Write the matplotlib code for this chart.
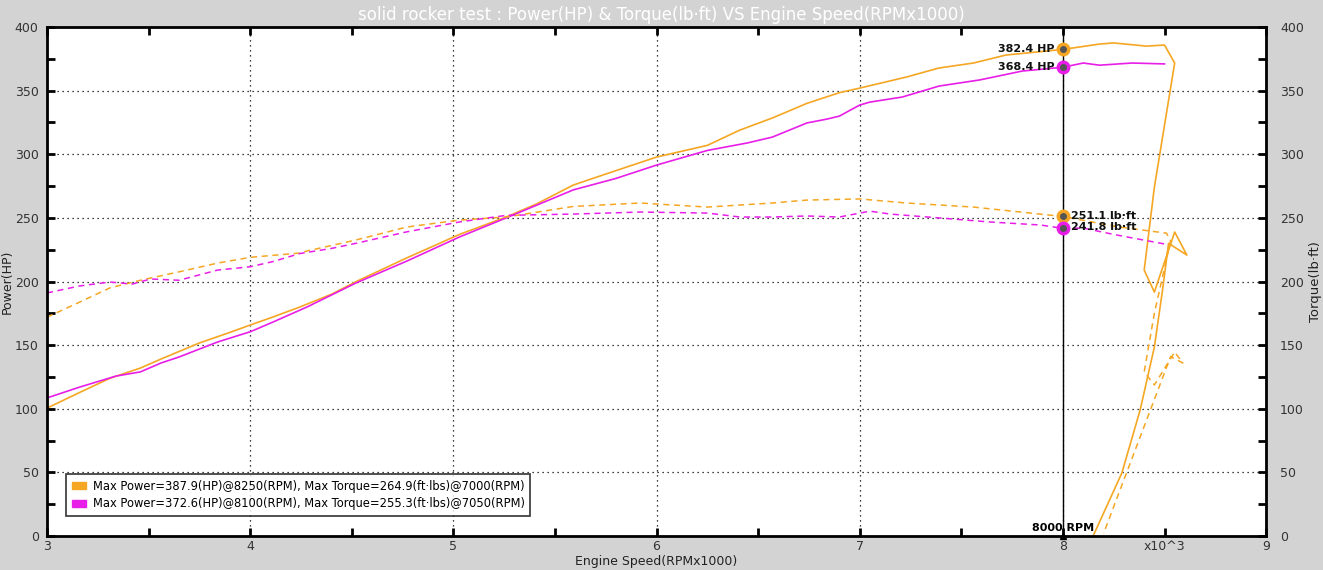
import numpy as np
import matplotlib.pyplot as plt
from matplotlib.patches import Patch

# run 1 (orange) - power and torque vs rpm (x1000)
rpm_a = [3.00, 3.15, 3.31, 3.46, 3.56, 3.75, 3.90, 4.00, 4.11, 4.245, 4.40, 4.53, 4.77,
         5.03, 5.26, 5.41, 5.59, 5.76, 6.00, 6.25, 6.41, 6.57, 6.74, 6.90, 7.00, 7.23,
         7.39, 7.56, 7.72, 8.00, 8.18, 8.25, 8.41, 8.50, 8.55, 8.45, 8.40, 8.45, 8.55,
         8.61, 8.52, 8.49, 8.45, 8.38, 8.29, 8.15]
hp_a = [100.5, 112, 124, 132, 139, 151.7, 160, 165.8, 172, 180, 190, 200.6, 218.5,
        237, 250.7, 261, 275.8, 285, 297.8, 307, 319, 328.5, 340, 348.4, 352, 360.7,
        367.8, 371.7, 378, 382.4, 386.6, 387.5, 385, 385.8, 371.7, 274, 209, 191.7, 238.9,
        220.8, 230, 193, 148.5, 99, 49.5, 0.5]

rpm_ta = [3.00, 3.15, 3.31, 3.46, 3.65, 3.84, 4.00, 4.245, 4.28, 4.52, 4.77, 5.03, 5.26,
          5.59, 5.92, 6.25, 6.57, 6.74, 7.00, 7.23, 7.56, 8.00, 8.27, 8.51, 8.53, 8.45,
          8.40, 8.45, 8.55, 8.59, 8.53, 8.20]
tq_a = [172, 183, 195, 201, 207.6, 214.5, 219, 222.4, 224, 232.6, 242.8, 248.3, 250.7,
        259, 261.7, 258.5, 261.7, 264, 264.9, 261.7, 258.5, 251.1, 243, 238, 232, 175,
        129, 118.7, 144.6, 136, 141, 2]

# run 2 (magenta)
rpm_b = [3.00, 3.16, 3.34, 3.46, 3.56, 3.65, 3.84, 4.00, 4.11, 4.28, 4.52, 4.77, 5.03,
         5.26, 5.41, 5.59, 5.80, 6.00, 6.25, 6.45, 6.57, 6.74, 6.84, 6.90, 7.00, 7.05,
         7.21, 7.39, 7.59, 7.80, 8.00, 8.10, 8.18, 8.34, 8.50]
hp_b = [108.5, 117, 125.7, 129, 135.9, 140.7, 152.5, 160.5, 168, 180, 198.8, 216, 235,
        250, 260, 272, 281, 291.5, 303, 309, 313.5, 324.6, 327.7, 330, 338.7, 341,
        345, 353.6, 358.4, 365.4, 368.4, 371.7, 370, 371.7, 371]

rpm_tb = [3.00, 3.16, 3.31, 3.42, 3.51, 3.65, 3.84, 4.00, 4.11, 4.245, 4.40, 4.52, 4.77,
          5.03, 5.26, 5.59, 5.92, 6.25, 6.41, 6.57, 6.74, 6.90, 7.05, 7.15, 7.39, 7.64,
          7.89, 8.00, 8.10, 8.25, 8.50]
tq_b = [191, 196.5, 199.6, 198, 202, 201, 209, 211.6, 215.6, 222, 226, 230, 239,
        246.8, 252, 253, 254.6, 253.8, 250.7, 250.7, 251.5, 250.7, 255.3, 253, 250, 246.8,
        244.4, 241.8, 242, 237, 229.5]

cursor_rpm = 8.0
cursor_hp = [382.4, 368.4]
cursor_tq = [251.1, 241.8]

legend_labels = ['Max Power=387.9(HP)@8250(RPM), Max Torque=264.9(ft·lbs)@7000(RPM)',
                 'Max Power=372.6(HP)@8100(RPM), Max Torque=255.3(ft·lbs)@7050(RPM)']

c_a = '#f5a623'
c_b = '#e81ee8'

fig = plt.figure(figsize=(13.23, 5.70), dpi=100, facecolor='#d3d3d3')
ax = fig.add_axes([0.0355, 0.0596, 0.9215, 0.893])
ax.set_facecolor('white')

ax.plot(rpm_a, hp_a, color=c_a, lw=1.2)
ax.plot(rpm_b, hp_b, color=c_b, lw=1.2)
ax.plot(rpm_ta, tq_a, color=c_a, lw=1.1, ls=(0, (4, 3)))
ax.plot(rpm_tb, tq_b, color=c_b, lw=1.1, ls=(0, (4, 3)))

# cursor line at 8000 rpm
ax.axvline(cursor_rpm, color='black', lw=1)
for v, c in zip(cursor_hp, [c_a, c_b]):
    ax.plot(cursor_rpm, v, 'o', color=c, ms=9, zorder=5)
    ax.plot(cursor_rpm, v, 'o', color='#555555', ms=4, zorder=6)
    ax.annotate(f'{v} HP', (cursor_rpm, v), xytext=(-6, 0), textcoords='offset points',
                ha='right', va='center', fontsize=8, fontweight='bold', color='#111111')
for v, c, dy in zip(cursor_tq, [c_a, c_b], [0, 1]):
    ax.plot(cursor_rpm, v, 'o', color=c, ms=9, zorder=5)
    ax.plot(cursor_rpm, v, 'o', color='#555555', ms=4, zorder=6)
    ax.annotate(f'{v} lb·ft', (cursor_rpm, v), xytext=(6, dy), textcoords='offset points',
                ha='left', va='center', fontsize=8, fontweight='bold', color='#111111')
ax.plot(cursor_rpm, 0, '^', color='black', ms=5, clip_on=False, zorder=6)
ax.annotate('8000 RPM', (cursor_rpm, 0), xytext=(0, 2), textcoords='offset points',
            ha='center', va='bottom', fontsize=8, fontweight='bold')

ax.set_xlim(3, 9)
ax.set_ylim(0, 400)
ax.set_xticks(np.arange(3, 10, 1))
ax.set_xticklabels(['3', '4', '5', '6', '7', '8', '9'])
ax.set_xticks(np.arange(3.5, 9, 1), minor=True)
ax.set_xticklabels(['', '', '', '', '', 'x10^3'], minor=True)
ax.set_yticks(np.arange(0, 401, 50))
ax.set_yticks(np.arange(25, 400, 50), minor=True)
ax.grid(True, which='major', color='black', ls=(0, (1, 3)), lw=0.9)

ax.tick_params(which='both', direction='in', top=True, width=2, colors='black',
               labelcolor='#333333', labelsize=9, pad=6)
ax.tick_params(axis='x', which='both', pad=3)
ax.tick_params(which='both', length=6)
for s in ax.spines.values():
    s.set_linewidth(2)

ax2 = ax.twinx()
ax2.set_ylim(0, 400)
ax2.set_yticks(np.arange(0, 401, 50))
ax2.set_yticks(np.arange(25, 400, 50), minor=True)
ax2.tick_params(which='both', direction='in', width=2, length=6,
                labelcolor='#333333', labelsize=9, pad=10)

ax.set_ylabel('Power(HP)', fontsize=9, color='#222222')
ax.yaxis.set_label_coords(-0.027, 0.5)
ax2.set_ylabel('Torque(lb·ft)', fontsize=9.5, color='#222222', labelpad=4)
ax.set_xlabel('Engine Speed(RPMx1000)', fontsize=9, color='#222222')
ax.xaxis.set_label_coords(0.5, -0.038)

fig.suptitle('solid rocker test : Power(HP) & Torque(lb·ft) VS Engine Speed(RPMx1000)',
             color='white', fontsize=12, y=0.99)

handles = [Patch(color=c_a), Patch(color=c_b)]
leg = ax.legend(handles, legend_labels, loc='lower left', bbox_to_anchor=(0.011, 0.028),
                fontsize=8.3, frameon=True, fancybox=False, handlelength=1.2,
                handleheight=0.6, borderpad=0.5, labelspacing=0.4, handletextpad=0.6)
leg.get_frame().set_edgecolor('black')
leg.get_frame().set_linewidth(1.2)

fig.savefig('out.png', dpi=100, facecolor=fig.get_facecolor())
